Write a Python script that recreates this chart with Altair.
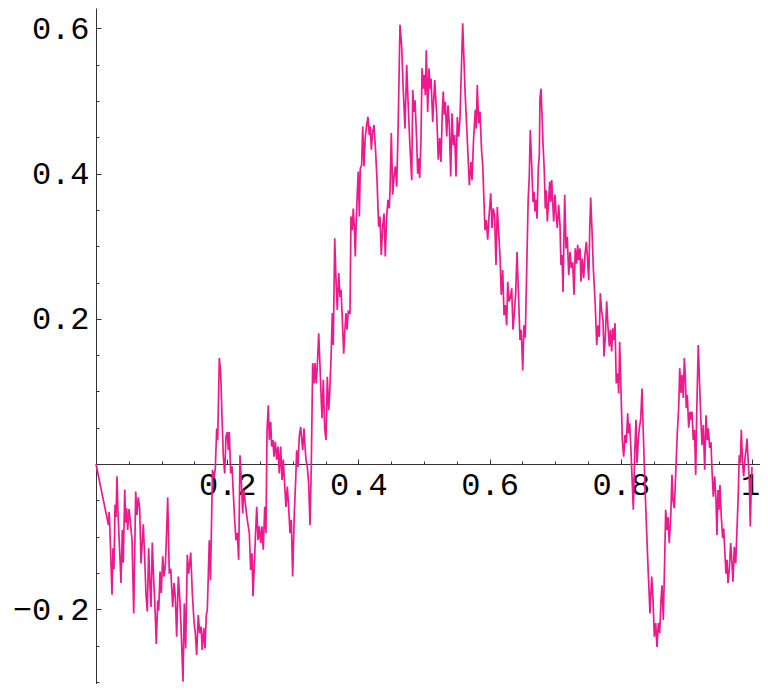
import altair as alt
import pandas as pd

xs = [0.0, 0.019, 0.020, 0.021, 0.0244, 0.0259, 0.0274, 0.0290, 0.0305, 0.0320, 0.0335, 0.0355, 0.0381, 0.0401, 0.0416, 0.0438, 0.0453, 0.0468, 0.0483, 0.0503,
      0.0523, 0.0549, 0.0575, 0.0605, 0.0625, 0.0645, 0.0666, 0.0686, 0.0706, 0.0721, 0.0742, 0.0762, 0.0782, 0.0803, 0.0823, 0.0838, 0.0858, 0.0880, 0.0899, 0.0919,
      0.0941, 0.0956, 0.0976, 0.0995, 0.1017, 0.1037, 0.1056, 0.1072, 0.1093, 0.1117, 0.1139, 0.1169, 0.1189, 0.1209, 0.1230, 0.1255, 0.1276, 0.1296, 0.1326, 0.1346,
      0.1367, 0.1392, 0.1413, 0.1444, 0.1468, 0.1494, 0.1514, 0.1535, 0.1559, 0.1581, 0.1601, 0.1620, 0.1642, 0.1662, 0.1681,
      0.1697, 0.1727, 0.1745, 0.1776, 0.1799, 0.1819, 0.1840, 0.1855, 0.1880, 0.1901, 0.1921, 0.1941, 0.1962, 0.1982, 0.2002, 0.2017, 0.2032, 0.2053, 0.2073, 0.2093,
      0.2114, 0.2134, 0.2154, 0.2175, 0.2195, 0.2215, 0.2236, 0.2252, 0.2271, 0.2306, 0.2337, 0.2358, 0.2378, 0.2393, 0.2413, 0.2428, 0.2450, 0.2470, 0.2489, 0.2511,
      0.2530, 0.2550, 0.2572, 0.2591, 0.2607, 0.2627, 0.2642, 0.2663, 0.2678, 0.2698, 0.2713, 0.2733, 0.2755, 0.2774, 0.2794, 0.2816, 0.2835, 0.2855, 0.2877, 0.2896,
      0.2916, 0.2937, 0.2957, 0.2977, 0.2998, 0.3023, 0.3044, 0.3059, 0.3079, 0.3099, 0.3120, 0.3151, 0.3171, 0.3186, 0.3201, 0.3221, 0.3242, 0.3262, 0.3282, 0.3303,
      0.3323, 0.3338, 0.3358, 0.3373, 0.3395, 0.3415, 0.3430, 0.3445, 0.3465, 0.3486, 0.3506, 0.3526, 0.3547, 0.3562, 0.3582, 0.3602, 0.3617, 0.3639, 0.3659, 0.3678,
      0.3700, 0.3720, 0.3735, 0.3755, 0.3776, 0.3791, 0.3811, 0.3826, 0.3846, 0.3872, 0.3887, 0.3907, 0.3922, 0.3938, 0.3953, 0.3968, 0.3983, 0.3998, 0.4014, 0.4029,
      0.4050, 0.4066, 0.4085, 0.4105, 0.4127, 0.4146, 0.4166, 0.4181, 0.4197, 0.4218, 0.4238, 0.4261, 0.4284, 0.4309, 0.4329, 0.4349, 0.4370, 0.4390, 0.4410, 0.4431,
      0.4451, 0.4471, 0.4482, 0.4502, 0.4523, 0.4543, 0.4563, 0.4584, 0.4604, 0.4634, 0.4660, 0.4684, 0.4710, 0.4736, 0.4756, 0.4787, 0.4813, 0.4828, 0.4848, 0.4863,
      0.4889, 0.4904, 0.4919, 0.4934, 0.4954, 0.4970, 0.4989, 0.5005, 0.5020, 0.5035, 0.5056, 0.5076, 0.5091, 0.5107, 0.5133, 0.5163, 0.5194, 0.5218, 0.5239, 0.5259,
      0.5279, 0.5294, 0.5309, 0.5325, 0.5346, 0.5366, 0.5386, 0.5407, 0.5427, 0.5447, 0.5468, 0.5488, 0.5508, 0.5529, 0.5549, 0.5590, 0.5625, 0.5666, 0.5691, 0.5716,
      0.5732, 0.5755, 0.5782, 0.5797, 0.5812, 0.5834, 0.5854, 0.5877, 0.5895, 0.5930, 0.5950, 0.5971, 0.5991, 0.6017, 0.6037, 0.6056, 0.6075, 0.6098, 0.6117, 0.6139,
      0.6159, 0.6178, 0.6200, 0.6220, 0.6239, 0.6261, 0.6276, 0.6296, 0.6316, 0.6337, 0.6357, 0.6377, 0.6398, 0.6418, 0.6438, 0.6463, 0.6483, 0.6505, 0.6524, 0.6544,
      0.6566, 0.6588, 0.6605, 0.6620, 0.6642, 0.6662, 0.6677, 0.6692, 0.6707, 0.6723, 0.6742, 0.6758, 0.6768, 0.6784, 0.6799, 0.6814, 0.6834, 0.6849, 0.6864, 0.6880,
      0.6901, 0.6916, 0.6931, 0.6947, 0.6962, 0.6977, 0.6997, 0.7015, 0.7032, 0.7053, 0.7073, 0.7088, 0.7104, 0.7119, 0.7145, 0.7165, 0.7184, 0.7206, 0.7226, 0.7245,
      0.7267, 0.7287, 0.7306, 0.7328, 0.7343, 0.7358, 0.7378, 0.7393, 0.7413, 0.7434, 0.7454, 0.7474, 0.7489, 0.7511, 0.7527, 0.7541, 0.7561, 0.7581, 0.7611, 0.7633,
      0.7652, 0.7672, 0.7688, 0.7706, 0.7729, 0.7744, 0.7764, 0.7785, 0.7805, 0.7825, 0.7841, 0.7861, 0.7877, 0.7896, 0.7912, 0.7931, 0.7953, 0.7968, 0.7983, 0.8003,
      0.8023, 0.8044, 0.8064, 0.8084, 0.8105, 0.8120, 0.8136, 0.8155, 0.8175, 0.8191, 0.8212, 0.8232, 0.8247, 0.8267, 0.8282, 0.8303, 0.8323, 0.8343, 0.8369, 0.8395,
      0.8419, 0.8445, 0.8471, 0.8491, 0.8511, 0.8532, 0.8552, 0.8572, 0.8593, 0.8613, 0.8628, 0.8648, 0.8669, 0.8684, 0.8704, 0.8720, 0.8739, 0.8761, 0.8780, 0.8796,
      0.8816, 0.8837, 0.8861, 0.8883, 0.8898, 0.8918, 0.8933, 0.8953, 0.8968, 0.8983, 0.8998, 0.9014, 0.9035, 0.9055, 0.9070, 0.9085, 0.9105, 0.9123, 0.9142, 0.9157,
      0.9181, 0.9203, 0.9223, 0.9238, 0.9258, 0.9279, 0.9299, 0.9319, 0.9334, 0.9355, 0.9375, 0.9390, 0.9410, 0.9431, 0.9451, 0.9466, 0.9482, 0.9497, 0.9512, 0.9532,
      0.9553, 0.9569, 0.9584, 0.9604, 0.9619, 0.9634, 0.9654, 0.9675, 0.9695, 0.9710, 0.9730, 0.9752, 0.9771, 0.9791, 0.9806, 0.9822, 0.9837, 0.9858, 0.9873, 0.9893,
      0.9909, 0.9924, 0.9944, 0.9959, 0.9974, 0.9989, 1.0]

ys = [0.0, -0.084, -0.066, -0.085, -0.180, -0.116, -0.145, -0.056, -0.073, -0.017, -0.066, -0.109, -0.164, -0.091, -0.136, -0.035, -0.081, -0.061, -0.091, -0.062,
      -0.079, -0.105, -0.206, -0.038, -0.070, -0.046, -0.061, -0.137, -0.107, -0.083, -0.128, -0.180, -0.203, -0.116, -0.169, -0.197, -0.108, -0.160, -0.197, -0.248,
      -0.188, -0.202, -0.148, -0.178, -0.127, -0.155, -0.141, -0.105, -0.046, -0.151, -0.144, -0.197, -0.164, -0.183, -0.238, -0.155, -0.183, -0.224, -0.300, -0.192,
      -0.254, -0.125, -0.151, -0.122, -0.178, -0.217, -0.233, -0.263, -0.208, -0.233, -0.224, -0.256, -0.226, -0.254, -0.208,
      -0.201, -0.105, -0.160, -0.008, -0.019, -0.006, 0.049, 0.033, 0.146, 0.125, 0.065, 0.010, -0.013, 0.038, 0.044, 0.019, 0.044, -0.013, -0.003, -0.040,
      -0.077, -0.105, -0.095, -0.132, 0.012, -0.022, -0.068, -0.036, -0.050, -0.077, -0.095, -0.146, -0.123, -0.182, -0.141, -0.105, -0.059, -0.105, -0.086, -0.109,
      -0.086, -0.118, -0.059, -0.095, 0.047, 0.081, 0.033, 0.058, 0.024, 0.033, 0.010, 0.031, 0.006, 0.024, -0.013, 0.024, -0.022, 0.006, -0.031, -0.059,
      -0.031, -0.059, -0.095, -0.077, -0.155, -0.068, -0.022, 0.019, -0.004, 0.038, 0.051, 0.019, 0.049, 0.024, 0.006, -0.004, -0.027, -0.084, -0.004, 0.139,
      0.111, 0.139, 0.111, 0.134, 0.180, 0.134, 0.097, 0.063, 0.116, 0.049, 0.033, 0.120, 0.074, 0.097, 0.143, 0.208, 0.164, 0.311, 0.253, 0.212,
      0.263, 0.230, 0.240, 0.198, 0.152, 0.180, 0.208, 0.185, 0.210, 0.208, 0.341, 0.322, 0.352, 0.327, 0.286, 0.336, 0.373, 0.403, 0.341, 0.407,
      0.412, 0.465, 0.410, 0.451, 0.467, 0.478, 0.453, 0.465, 0.433, 0.458, 0.467, 0.433, 0.391, 0.327, 0.341, 0.288, 0.327, 0.345, 0.286, 0.341,
      0.364, 0.352, 0.377, 0.456, 0.371, 0.396, 0.410, 0.382, 0.456, 0.605, 0.575, 0.515, 0.462, 0.550, 0.501, 0.435, 0.391, 0.515, 0.485, 0.501,
      0.444, 0.400, 0.421, 0.394, 0.446, 0.545, 0.517, 0.536, 0.508, 0.570, 0.485, 0.545, 0.517, 0.531, 0.471, 0.529, 0.481, 0.419, 0.449, 0.416,
      0.485, 0.513, 0.481, 0.499, 0.451, 0.494, 0.467, 0.396, 0.483, 0.439, 0.453, 0.396, 0.478, 0.451, 0.477, 0.607, 0.515, 0.435, 0.384, 0.416,
      0.391, 0.446, 0.488, 0.462, 0.522, 0.469, 0.485, 0.433, 0.412, 0.322, 0.336, 0.309, 0.341, 0.373, 0.325, 0.352, 0.343, 0.274, 0.354, 0.318,
      0.286, 0.233, 0.267, 0.205, 0.219, 0.191, 0.251, 0.224, 0.229, 0.242, 0.185, 0.208, 0.235, 0.292, 0.240, 0.171, 0.185, 0.129, 0.191, 0.174,
      0.270, 0.364, 0.396, 0.460, 0.412, 0.361, 0.375, 0.348, 0.364, 0.338, 0.407, 0.426, 0.504, 0.517, 0.481, 0.442, 0.403, 0.352, 0.377, 0.334,
      0.364, 0.389, 0.361, 0.391, 0.361, 0.334, 0.371, 0.343, 0.325, 0.357, 0.329, 0.274, 0.288, 0.237, 0.371, 0.297, 0.313, 0.260, 0.292, 0.270,
      0.278, 0.233, 0.297, 0.276, 0.302, 0.281, 0.297, 0.251, 0.283, 0.256, 0.288, 0.306, 0.288, 0.253, 0.325, 0.367, 0.322, 0.270, 0.219, 0.164,
      0.191, 0.175, 0.235, 0.212, 0.198, 0.148, 0.175, 0.224, 0.189, 0.162, 0.185, 0.155, 0.187, 0.171, 0.194, 0.111, 0.125, 0.097, 0.168, 0.102,
      0.033, 0.010, 0.040, 0.029, 0.070, 0.042, 0.056, 0.019, -0.027, -0.063, 0.015, 0.061, 0.001, 0.033, 0.049, 0.061, 0.104, 0.042, -0.031, -0.095,
      -0.151, -0.206, -0.155, -0.187, -0.238, -0.219, -0.252, -0.219, -0.233, -0.187, -0.167, -0.215, -0.132, -0.063, -0.091, -0.073, -0.109, -0.073, -0.015, -0.050,
      -0.061, -0.013, 0.042, 0.079, 0.132, 0.098, 0.123, 0.091, 0.146, 0.123, 0.077, 0.095, 0.050, 0.072, 0.061, 0.072, 0.033, 0.047, -0.015, 0.070,
      0.164, 0.106, 0.056, 0.026, 0.054, -0.008, 0.067, 0.033, 0.049, 0.022, 0.030, -0.008, -0.045, -0.017, -0.050, -0.098, -0.036, -0.063, -0.029, -0.073,
      -0.102, -0.089, -0.118, -0.151, -0.132, -0.164, -0.146, -0.109, -0.137, -0.162, -0.114, -0.137, -0.091, -0.040, 0.012, 0.001, 0.047, -0.001, -0.017, 0.008,
      0.019, 0.035, 0.001, -0.022, -0.086, -0.031, -0.004]

x_ticks = [0.05, 0.1, 0.15, 0.2, 0.25, 0.3, 0.35, 0.4, 0.45, 0.5, 0.55, 0.6, 0.65, 0.7, 0.75, 0.8, 0.85, 0.9, 0.95, 1.0]
y_ticks = [-0.3, -0.25, -0.2, -0.15, -0.1, -0.05, 0.05, 0.1, 0.15, 0.2, 0.25, 0.3, 0.35, 0.4, 0.45, 0.5, 0.55, 0.6]
x_labels = [0.2, 0.4, 0.6, 0.8, 1.0]
y_labels = [-0.2, 0.2, 0.4, 0.6]

assert len(xs) == len(ys), (len(xs), len(ys))
df = pd.DataFrame({"x": xs, "y": ys, "i": list(range(len(xs)))})

W, H = 664, 676
X_MAX = 1.01220
Y_MIN, Y_MAX = -0.30303, 0.62810

xl = "[" + ",".join(str(v) for v in x_labels) + "]"
yl = "[" + ",".join(str(v) for v in y_labels) + "]"
AX = "#333333"
FONT = "Liberation Mono"

x_axis = alt.Axis(
    orient="top", offset=-456, values=x_ticks, grid=False, title=None,
    domainColor=AX, tickColor=AX, domainWidth=1, tickWidth=1,
    tickSize={"condition": {"test": f"indexof({xl}, datum.value) >= 0", "value": 5}, "value": 3},
    labelExpr=f"indexof({xl}, datum.value) >= 0 ? (datum.value == 1 ? '1' : format(datum.value, '.1f')) : ''",
    labelOffset={"condition": {"test": "datum.value == 1", "value": -2}, "value": 0},
    labelFont=FONT, labelFontSize=32, labelColor="black", labelBaseline="top",
    labelAlign="center", labelPadding=-10, labelOverlap=False, labelFlush=False, labelBound=False,
)
y_axis = alt.Axis(
    orient="right", offset=-W, values=y_ticks, grid=False, title=None,
    domainColor=AX, tickColor=AX, domainWidth=1, tickWidth=1,
    tickSize={"condition": {"test": f"indexof({yl}, datum.value) >= 0", "value": 5}, "value": 3},
    labelExpr=f"indexof({yl}, datum.value) >= 0 ? format(datum.value, '.1f') : ''",
    labelFont=FONT, labelFontSize=32, labelColor="black", labelBaseline="middle",
    labelAlign="right", labelPadding=-12, labelOverlap=False, labelFlush=False, labelBound=False,
)

line = alt.Chart(df).mark_line(color="#EC1A8D", strokeWidth=1.7).encode(
    x=alt.X("x:Q", scale=alt.Scale(domain=[0, X_MAX], nice=False, zero=False), axis=x_axis),
    y=alt.Y("y:Q", scale=alt.Scale(domain=[Y_MIN, Y_MAX], nice=False, zero=False), axis=y_axis),
    order=alt.Order("i:Q"),
)

chart = line.properties(
    width=W, height=H,
    padding={"left": 88, "top": 0, "right": 0, "bottom": 0},
    autosize=alt.AutoSizeParams(type="none"),
    background="white",
).configure_view(strokeWidth=0)

chart.save("out.html", embed_options={"renderer": "svg", "actions": False})
